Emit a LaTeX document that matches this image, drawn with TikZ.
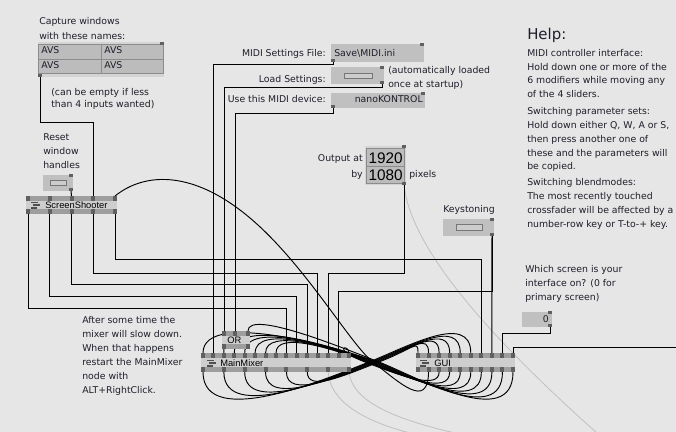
\documentclass[tikz,border=0pt]{standalone}
\usepackage{fontspec}
\setmainfont{DejaVu Sans}
\newfontfamily\numfont{Liberation Sans}
\usetikzlibrary{calc}
\definecolor{bg}{RGB}{230,230,230}
\definecolor{nbody}{RGB}{206,206,206}
\definecolor{nstrip}{RGB}{158,158,158}
\definecolor{npin}{RGB}{96,96,96}
\definecolor{iobox}{RGB}{192,192,192}
\definecolor{iolow}{RGB}{212,212,212}
\definecolor{cellfill}{RGB}{188,188,188}
\definecolor{celledge}{RGB}{140,140,140}
\definecolor{btnedge}{RGB}{118,118,118}
\definecolor{btnfill}{RGB}{204,204,204}
\definecolor{txt}{RGB}{30,30,42}
\definecolor{faint}{RGB}{192,192,192}
\definecolor{icon}{RGB}{80,80,80}

\newcommand\vvframe[4]{%
  \fill[nbody] (#1,#2) rectangle (#3,#4);
  \fill[nstrip] (#1,#2) rectangle (#3,{#2+5});
  \fill[nstrip] (#1,{#4-5}) rectangle (#3,#4);}
\newcommand\tpin[3]{\coordinate (#1) at (#2,#3);
  \fill[npin] ({#2-2},#3) rectangle ({#2+2},{#3+5});}
\newcommand\bpin[3]{\coordinate (#1) at (#2,#3);
  \fill[npin] ({#2-2},{#3-5}) rectangle ({#2+2},#3);}
\newcommand\iopin[4]{\fill[npin] (#1,#2) rectangle (#3,#4);}
\newcommand\menuicon[2]{%
  \fill[icon] (#1,{#2-3.5}) rectangle ({#1+7},{#2-2});
  \fill[icon] ({#1+2},{#2-0.75}) rectangle ({#1+9},{#2+0.75});
  \fill[icon] (#1,{#2+2}) rectangle ({#1+6},{#2+3.5});}
% link from a bottom outlet, through the crossing, into a top inlet to the right
\newcommand\eightR[5]{\draw[curvewire] (#1) .. controls ($(#1)+(0,#3)$) and ({373+#5-36},376) .. ({373+#5},362)
   .. controls ({373+#5+36},348) and ($(#2)+(0,-#4)$) .. (#2);}
% link from a bottom outlet, through the crossing, into a top inlet to the left
\newcommand\eightL[5]{\draw[curvewire] (#1) .. controls ($(#1)+(0,#3)$) and ({373+#5+36},376) .. ({373+#5},362)
   .. controls ({373+#5-36},348) and ($(#2)+(0,-#4)$) .. (#2);}

\begin{document}
\begin{tikzpicture}[x=0.75pt,y=-0.75pt,
  txtstyle/.style={font=\fontsize{7.0}{10}\selectfont, text=txt, inner sep=0pt, anchor=base west},
  txtr/.style={txtstyle, anchor=base east},
  numstyle/.style={font=\numfont\fontsize{11.5}{12}\selectfont, text=black, inner sep=0pt, anchor=base east},
  helpstyle/.style={font=\fontsize{11.2}{13}\selectfont, text=txt, inner sep=0pt, anchor=base west},
  nodetext/.style={font=\numfont\fontsize{7.0}{10}\selectfont, text=black, inner sep=0pt, anchor=base west},
  wire/.style={line width=0.75pt, draw=black},
  curvewire/.style={line width=0.7pt, draw=black},
  ghost/.style={line width=0.6pt, draw=faint},
]
\fill[bg] (0,0) rectangle (676,432);
\useasboundingbox (0,0) rectangle (676,432);

% ---------- pins of vvvv nodes (coordinates) ----------
\foreach \i in {0,...,14}{\pgfmathsetmacro\px{203+\i*10.43}\coordinate (mmt\i) at (\px,353);}
\foreach \i in {0,...,7}{\pgfmathsetmacro\px{203+\i*20.86}\coordinate (mmb\i) at (\px,372);}
\foreach \i in {0,...,9}{\pgfmathsetmacro\px{418+\i*10.556}\coordinate (gt\i) at (\px,353);\coordinate (gb\i) at (\px,372);}
\foreach \i in {0,...,4}{\pgfmathsetmacro\px{28+\i*21.75}\coordinate (sst\i) at (\px,196);\coordinate (ssb\i) at (\px,214);}
\coordinate (ort0) at (224,331);
\coordinate (ort1) at (235,331);
\coordinate (ort2) at (248,331);
\coordinate (orb0) at (224,349);
% io box outlets
\coordinate (tbo) at (40,77);
\coordinate (mfo) at (333,62);
\coordinate (lso) at (382,84);
\coordinate (mdo) at (333,108);
\coordinate (rso) at (71,191);
\coordinate (opo) at (404,185);
\coordinate (kso) at (492,236);
\coordinate (sco) at (550,327);
\coordinate (redge) at (676,347);

% ---------- faint links ----------
\draw[ghost] (opo) .. controls (410,240) and (470,320) .. (597,433);
\draw[ghost] (mmb6) .. controls (330,400) and (360,420) .. (410,433);
\draw[ghost] (mmb7) .. controls (352,400) and (390,418) .. (455,433);

% ---------- straight links ----------
\draw[wire] (tbo) -- ++(0,45) -| (sst3);
\draw[wire] (mfo) -- ++(0,2) -| (mmt1);
\draw[wire] (lso) -- ++(0,3) -| (ort0);
\draw[wire] (mdo) -- ++(0,5) -| (ort1);
\draw[wire] (orb0) -- (mmt2);
\draw[wire] (rso) -- (sst2);
\draw[wire] (ssb0) -- ++(0,94) -| (mmt8);
\draw[wire] (ssb1) -- ++(0,82) -| (mmt9);
\draw[wire] (ssb2) -- ++(0,70) -| (mmt10);
\draw[wire] (ssb3) -- ++(0,59) -| (mmt11);
\draw[wire] (ssb4) -- ++(0,45) -| (gt6);
\draw[wire] (opo) -- ++(0,88) -| (mmt12);
\draw[wire] (kso) -- (gt7);
\draw[wire] (kso) -- ++(0,55) -| (mmt13);
\draw[wire] (sco) -- ++(0,6) -| (gt8);
\draw[wire] (gt9) |- (redge);

% ---------- curved links (figure eight) ----------
\eightR{mmb0}{gt5}{60}{42}{-4}
\eightR{mmb1}{gt4}{52}{36}{-2}
\eightR{mmb2}{gt3}{44}{30}{0}
\eightR{mmb3}{gt2}{36}{25}{2}
\eightR{mmb4}{gt1}{28}{20}{4}
\eightR{mmb5}{gt0}{20}{14}{6}
\eightL{gb9}{ort2}{60}{22}{6}
\eightL{gb8}{mmt0}{55}{44}{4}
\eightL{gb7}{mmt3}{48}{38}{2}
\eightL{gb6}{mmt4}{42}{34}{0}
\eightL{gb5}{mmt5}{36}{30}{-2}
\eightL{gb4}{mmt6}{30}{26}{-4}
\eightL{gb3}{mmt7}{24}{22}{-6}
\eightL{gb2}{mmt14}{18}{10}{-8}
\draw[curvewire] (sst4) .. controls (145,172) and (190,172) .. (240,210)
  .. controls (300,255) and (350,345) .. (373,362)
  .. controls (400,383) and (428,410) .. (gb1);

% ---------- string table ----------
\fill[iolow] (38,42) rectangle (164,77);
\fill[cellfill] (38,44) rectangle (164,74);
\draw[celledge, line width=0.75pt] (38.5,44.5) rectangle (163.5,73.5);
\draw[celledge, line width=0.75pt] (38.5,59) -- (163.5,59);
\draw[celledge, line width=0.75pt] (101,44.5) -- (101,73.5);
\iopin{160}{42}{164}{45}
\iopin{38}{74}{42}{77}
\node[txtstyle] (c11) at (41,54) {AVS};
\node[txtstyle] (c12) at (104,54) {AVS};
\node[txtstyle] (c21) at (41,69) {AVS};
\node[txtstyle] (c22) at (104,69) {AVS};

% ---------- MIDI io boxes ----------
\fill[iobox] (331,44) rectangle (424,62);
\iopin{420}{43}{424}{46}
\iopin{331}{59}{335}{62}
\fill[iobox] (331,67) rectangle (384,84);
\draw[btnedge, fill=btnfill, line width=0.75pt] (344,73) rectangle (372,78);
\iopin{380}{66}{384}{69}
\iopin{380}{81}{384}{84}
\fill[iobox] (331,93) rectangle (425,108);
\iopin{421}{92}{425}{95}
\iopin{331}{105}{335}{108}

% ---------- reset button ----------
\fill[iobox] (43,175) rectangle (73,191);
\draw[btnedge, fill=btnfill, line width=0.75pt] (50,180) rectangle (66,185);
\iopin{69}{174}{73}{177}
\iopin{69}{188}{73}{191}

% ---------- output size ----------
\fill[iolow] (365,146) rectangle (406,185);
\draw[celledge, fill=cellfill, line width=0.75pt] (366,148) rectangle (404,166);
\draw[celledge, fill=cellfill, line width=0.75pt] (366,166) rectangle (404,183);
\iopin{402}{145}{406}{148}
\iopin{402}{182}{406}{185}

% ---------- keystoning ----------
\fill[iobox] (443,219) rectangle (494,236);
\draw[btnedge, fill=btnfill, line width=0.75pt] (456,224) rectangle (482,230);
\iopin{490}{218}{494}{221}
\iopin{490}{233}{494}{236}

% ---------- screen number ----------
\fill[iobox] (522,312) rectangle (552,327);
\iopin{548}{311}{552}{314}
\iopin{548}{324}{552}{327}

% ---------- vvvv nodes ----------
\vvframe{26}{196}{117}{214}
\foreach \i in {0,...,4}{\pgfmathsetmacro\px{28+\i*21.75}\tpin{p}{\px}{196}\bpin{p}{\px}{214}}
\menuicon{31}{205}
\vvframe{222}{331}{250}{349}
\tpin{p}{224}{331}\tpin{p}{235}{331}\tpin{p}{248}{331}
\bpin{p}{224}{349}\bpin{p}{248}{349}
\vvframe{201}{353}{351}{372}
\foreach \i in {0,...,14}{\pgfmathsetmacro\px{203+\i*10.43}\tpin{p}{\px}{353}}
\foreach \i in {0,...,7}{\pgfmathsetmacro\px{203+\i*20.86}\bpin{p}{\px}{372}}
\menuicon{207}{363}
\vvframe{416}{353}{515}{372}
\foreach \i in {0,...,9}{\pgfmathsetmacro\px{418+\i*10.556}\tpin{p}{\px}{353}\bpin{p}{\px}{372}}
\menuicon{420}{363}

\node[nodetext] (nss) at (45,208) {ScreenShooter};
\node[nodetext] (nor) at (227,343) {OR};
\node[nodetext] (nmm) at (220,366) {MainMixer};
\node[nodetext] (ngui) at (434,366) {GUI};

% ---------- texts ----------
\node[txtstyle] (t1) at (39,25) {Capture windows};
\node[txtstyle] (t2) at (39,39) {with these names:};
\node[txtstyle] (t3) at (51,95) {(can be empty if less};
\node[txtstyle] (t4) at (51,108) {than 4 inputs wanted)};
\node[txtr] (t5) at (326,56) {MIDI Settings File:};
\node[txtstyle] (t6) at (334,56) {Save\textbackslash MIDI.ini};
\node[txtr] (t7) at (326,82) {Load Settings:};
\node[txtstyle] (t8) at (388,73) {(automatically loaded};
\node[txtstyle] (t9) at (388,87) {once at startup)};
\node[txtr] (t10) at (326,103) {Use this MIDI device:};
\node[txtr] (t11) at (423,103) {nanoKONTROL};
\node[txtstyle] (t12) at (43,140) {Reset};
\node[txtstyle] (t13) at (43,154) {window};
\node[txtstyle] (t14) at (43,168) {handles};
\node[txtr] (t15) at (363,161) {Output at};
\node[txtr] (t16) at (363,177) {by};
\node[txtstyle] (t17) at (409,177) {pixels};
\node[numstyle] (n1) at (403,163) {1920};
\node[numstyle] (n2) at (403,180) {1080};
\node[txtstyle] (t18) at (443,212) {Keystoning};
\node[helpstyle] (h0) at (527,40) {Help:};
\node[txtstyle] (h1) at (527,56) {MIDI controller interface:};
\node[txtstyle] (h2) at (527,70) {Hold down one or more of the};
\node[txtstyle] (h3) at (527,84) {6 modifiers while moving any};
\node[txtstyle] (h4) at (527,98) {of the 4 sliders.};
\node[txtstyle] (h5) at (527,114) {Switching parameter sets:};
\node[txtstyle] (h6) at (527,128) {Hold down either Q, W, A or S,};
\node[txtstyle] (h7) at (527,142) {then press another one of};
\node[txtstyle] (h8) at (527,156) {these and the parameters will};
\node[txtstyle] (h9) at (527,169) {be copied.};
\node[txtstyle] (h10) at (527,185) {Switching blendmodes:};
\node[txtstyle] (h11) at (527,199) {The most recently touched};
\node[txtstyle] (h12) at (527,213) {crossfader will be affected by a};
\node[txtstyle] (h13) at (527,227) {number-row key or T-to-+ key.};
\node[txtstyle] (w1) at (525,272) {Which screen is your};
\node[txtstyle] (w2) at (525,286) {interface on? (0 for};
\node[txtstyle] (w3) at (525,300) {primary screen)};
\node[txtr] (w4) at (549,322) {0};
\node[txtstyle] (a1) at (82,323) {After some time the};
\node[txtstyle] (a2) at (82,337) {mixer will slow down.};
\node[txtstyle] (a3) at (82,351) {When that happens};
\node[txtstyle] (a4) at (82,365) {restart the MainMixer};
\node[txtstyle] (a5) at (82,379) {node with};
\node[txtstyle] (a6) at (82,393) {ALT+RightClick.};
\end{tikzpicture}
\end{document}
